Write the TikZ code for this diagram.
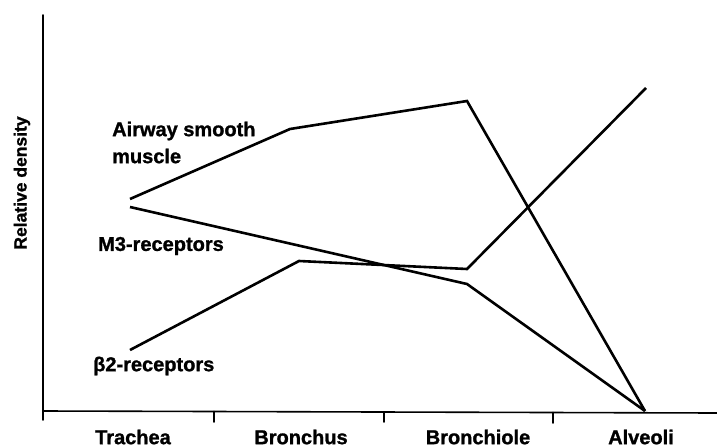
\documentclass[tikz,border=0pt]{standalone}
\usepackage{fontspec}
\setmainfont{Liberation Sans}[BoldFeatures={FakeBold=1.2}]
\begin{document}
\begin{tikzpicture}[x=1pt,y=-1pt,
  axis/.style={line width=1.6pt,line cap=round},
  curve/.style={line width=2.6pt,line join=miter},
  lbl/.style={font=\fontsize{20}{23}\selectfont\bfseries,inner sep=0pt},
  ylbl/.style={font=\fontsize{17.5}{20}\selectfont\bfseries,inner sep=0pt,rotate=90}]
\useasboundingbox (0,0) rectangle (717,447);
% axes
\coordinate (O) at (43,411);
\coordinate (Ytop) at (43,15);
\coordinate (Ybot) at (43,420);
\coordinate (Xend) at (717,413);
\draw[axis] (Ytop) -- (Ybot);
\draw[axis] (O) -- (Xend);
\coordinate (t1) at (214,411.5);
\coordinate (t1b) at (214,422);
\coordinate (t2) at (384,412);
\coordinate (t2b) at (384,422);
\coordinate (t3) at (553,412.5);
\coordinate (t3b) at (553,423);
\draw[axis] (t1) -- (t1b);
\draw[axis] (t2) -- (t2b);
\draw[axis] (t3) -- (t3b);
% axis labels
\node[ylbl] (ylab) at (22,183) {Relative density};
\node[lbl] (tr) at (133,437) {Trachea};
\node[lbl] (br) at (301,437) {Bronchus};
\node[lbl] (bl) at (478,437) {Bronchiole};
\node[lbl] (al) at (641,437) {Alveoli};
% data points
\coordinate (a1) at (130,199);
\coordinate (a2) at (290,129);
\coordinate (a3) at (467,101);
\coordinate (a4) at (645,411);
\coordinate (m1) at (130,207);
\coordinate (m3) at (467,284);
\coordinate (b1) at (130,350);
\coordinate (b2) at (299,261);
\coordinate (b3) at (467,269);
\coordinate (b4) at (646,88);
\draw[curve] (a1) -- (a2) -- (a3) -- (a4);
\draw[curve] (m1) -- (m3) -- (a4);
\draw[curve] (b1) -- (b2) -- (b3) -- (b4);
% series labels
\node[lbl,anchor=west] (asm1) at (112,131) {Airway smooth};
\node[lbl,anchor=west] (asm2) at (112,156) {muscle};
\node[lbl,anchor=west] (m3l) at (98,246) {M3-receptors};
\node[lbl,anchor=west] (b2l) at (93,366) {β2-receptors};
\end{tikzpicture}
\end{document}
